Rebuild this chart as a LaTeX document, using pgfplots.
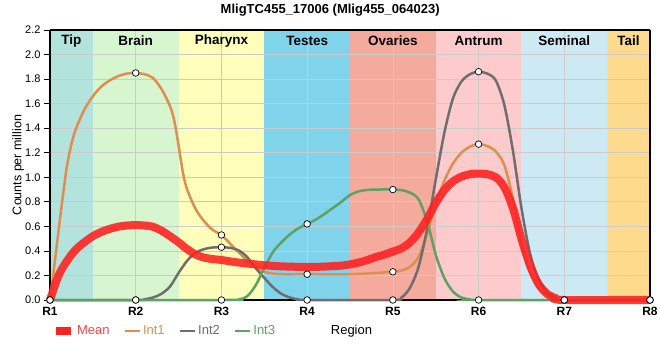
\documentclass[border=0pt]{standalone}
\usepackage{pgfplots}
\pgfplotsset{compat=1.18}
\usepackage{fontspec}
\setmainfont{Liberation Sans}
\definecolor{cTip}{HTML}{B3E3DD}
\definecolor{cBrain}{HTML}{D7F5CE}
\definecolor{cPharynx}{HTML}{FFFFBB}
\definecolor{cTestes}{HTML}{7FD3EA}
\definecolor{cOvaries}{HTML}{F4AB9D}
\definecolor{cAntrum}{HTML}{FDCBCC}
\definecolor{cSeminal}{HTML}{CDEAF4}
\definecolor{cTail}{HTML}{FDDA8C}
\definecolor{cMean}{HTML}{FF2020}
\definecolor{cInt1}{HTML}{DF8E4F}
\definecolor{cInt2}{HTML}{6E6E6E}
\definecolor{cInt3}{HTML}{5EA065}
\newcommand{\fs}[1]{\fontsize{#1}{#1}\selectfont}
\pgfplotsset{layers/mylayers/.define layer set={axis background,axis grid,main,axis ticks,axis lines,axis tick labels,axis descriptions,axis foreground}{}}
\begin{document}
\begin{tikzpicture}
\begin{axis}[
  set layers=mylayers,
  scale only axis, width=600pt, height=270pt,
  xmin=1, xmax=8, ymin=0, ymax=2.2,
  clip=false,
  xtick={1,...,8},
  xticklabels={R1,R2,R3,R4,R5,R6,R7,R8},
  ytick={0,0.2,...,2.21},
  /pgf/number format/fixed,
  /pgf/number format/fixed zerofill,
  /pgf/number format/precision=1,
  /pgf/number format/assume math mode=true,
  x tick label style={font=\bfseries\fs{12}, yshift=-1pt},
  y tick label style={font=\fs{11}},
  xtick align=center, xtick pos=bottom,
  ytick align=outside, ytick pos=left,
  major tick length=6pt,
  tick style={black, line width=0.8pt},
  grid=major,
  major grid style={color=black!20, line width=0.7pt},
  separate axis lines,
  x axis line style={black, line width=2.5pt},
  y axis line style={black, line width=1.8pt},
  xlabel={Region},
  xlabel style={font=\fs{13}, at={(axis description cs:0.5025,-0.115)}, anchor=center},
  ylabel={Counts per million},
  ylabel style={font=\fs{12.5}, at={(axis description cs:-0.053,0.5)}, anchor=center},
  title={\bfseries MligTC455\_17006 (Mlig455\_064023)},
  title style={font=\fs{13}, at={(axis description cs:0.467,1.05)}, anchor=center},
  legend columns=4,
  legend style={draw=none, fill=none, font=\fs{13},
    at={(axis description cs:0.003,-0.115)}, anchor=west,
    /tikz/every even column/.append style={column sep=12pt},
    inner sep=0pt},
  legend image code/.code={\draw[#1] (0pt,0pt) -- (15pt,0pt);},
]
\addlegendimage{cMean, line width=8pt}
\addlegendentry{\textcolor{cMean!85!white}{Mean}}
\addlegendimage{cInt1, line width=2.5pt}
\addlegendentry{\textcolor{cInt1}{Int1}}
\addlegendimage{cInt2, line width=2.5pt}
\addlegendentry{\textcolor{cInt2}{Int2}}
\addlegendimage{cInt3, line width=2.5pt}
\addlegendentry{\textcolor{cInt3}{Int3}}

% background bands
\addplot[on layer=axis background, fill=cTip, draw=none, forget plot] coordinates {(1,2.2) (1.5,2.2)} \closedcycle;
\addplot[on layer=axis background, fill=cBrain, draw=none, forget plot] coordinates {(1.5,2.2) (2.5,2.2)} \closedcycle;
\addplot[on layer=axis background, fill=cPharynx, draw=none, forget plot] coordinates {(2.5,2.2) (3.5,2.2)} \closedcycle;
\addplot[on layer=axis background, fill=cTestes, draw=none, forget plot] coordinates {(3.5,2.2) (4.5,2.2)} \closedcycle;
\addplot[on layer=axis background, fill=cOvaries, draw=none, forget plot] coordinates {(4.5,2.2) (5.5,2.2)} \closedcycle;
\addplot[on layer=axis background, fill=cAntrum, draw=none, forget plot] coordinates {(5.5,2.2) (6.5,2.2)} \closedcycle;
\addplot[on layer=axis background, fill=cSeminal, draw=none, forget plot] coordinates {(6.5,2.2) (7.5,2.2)} \closedcycle;
\addplot[on layer=axis background, fill=cTail, draw=none, forget plot] coordinates {(7.5,2.2) (8,2.2)} \closedcycle;

% Int1
\addplot[cInt1, line width=2.5pt, smooth, tension=0.5, no markers, forget plot] coordinates {
(1,0) (1.04,0.22) (1.08,0.45) (1.12,0.68) (1.16,0.9) (1.2,1.1) (1.25,1.27) (1.3,1.39) (1.4,1.55) (1.5,1.66) (1.6,1.74) (1.7,1.79) (1.8,1.825) (1.9,1.845) (2,1.85)
(2.1,1.84) (2.2,1.81) (2.3,1.72) (2.4,1.58) (2.45,1.46) (2.5,1.26) (2.55,1.04) (2.6,0.9) (2.7,0.74) (2.8,0.64) (2.9,0.57) (3,0.53)
(3.1,0.46) (3.2,0.39) (3.3,0.32) (3.4,0.265) (3.5,0.23) (3.6,0.215) (3.7,0.21) (4,0.21) (4.5,0.21) (4.8,0.22) (5,0.23)
(5.1,0.24) (5.2,0.27) (5.3,0.35) (5.4,0.54) (5.5,0.78) (5.6,0.97) (5.7,1.11) (5.8,1.2) (5.9,1.25) (6,1.27)
(6.1,1.255) (6.2,1.21) (6.3,1.1) (6.4,0.83) (6.5,0.46) (6.6,0.23) (6.7,0.1) (6.8,0.04) (6.9,0.01) (7,0) (8,0)};
% Int2
\addplot[cInt2, line width=2.5pt, smooth, tension=0.5, no markers, forget plot] coordinates {
(1,0) (2,0) (2.1,0.005) (2.2,0.02) (2.3,0.05) (2.4,0.11) (2.5,0.22) (2.6,0.32) (2.7,0.385) (2.8,0.415) (2.9,0.428) (3,0.43)
(3.1,0.425) (3.2,0.405) (3.3,0.35) (3.4,0.26) (3.5,0.18) (3.6,0.105) (3.7,0.05) (3.8,0.02) (3.9,0.005) (4,0) (5,0)
(5.1,0.02) (5.2,0.1) (5.3,0.27) (5.4,0.58) (5.5,0.98) (5.6,1.36) (5.7,1.64) (5.8,1.78) (5.9,1.84) (6,1.86)
(6.1,1.845) (6.2,1.79) (6.3,1.59) (6.4,1.22) (6.5,0.75) (6.6,0.38) (6.7,0.17) (6.8,0.065) (6.9,0.02) (7,0) (8,0)};
% Int3
\addplot[cInt3, line width=2.5pt, smooth, tension=0.5, no markers, forget plot] coordinates {
(1,0) (3,0) (3.2,0.005) (3.3,0.03) (3.4,0.12) (3.5,0.26) (3.6,0.39) (3.7,0.47) (3.8,0.535) (3.9,0.585) (4,0.62)
(4.1,0.655) (4.2,0.70) (4.3,0.75) (4.4,0.80) (4.5,0.855) (4.6,0.885) (4.7,0.897) (4.8,0.9) (5,0.9)
(5.1,0.895) (5.2,0.875) (5.3,0.82) (5.4,0.64) (5.5,0.37) (5.6,0.18) (5.7,0.07) (5.8,0.02) (5.9,0.005) (6,0) (8,0)};
% Mean
\addplot[cMean, draw opacity=0.88, line width=8pt, smooth, tension=0.5, no markers, forget plot] coordinates {
(1,0) (1.1,0.2) (1.2,0.32) (1.3,0.41) (1.4,0.47) (1.5,0.52) (1.6,0.555) (1.7,0.58) (1.8,0.598) (1.9,0.607) (2,0.61)
(2.1,0.607) (2.2,0.597) (2.3,0.565) (2.4,0.52) (2.5,0.47) (2.6,0.415) (2.7,0.37) (2.8,0.345) (2.9,0.333) (3,0.326)
(3.1,0.315) (3.2,0.305) (3.3,0.297) (3.4,0.29) (3.5,0.283) (3.6,0.278) (3.7,0.274) (3.8,0.272) (3.9,0.27) (4,0.27)
(4.1,0.27) (4.2,0.272) (4.3,0.276) (4.4,0.28) (4.5,0.29) (4.6,0.305) (4.7,0.325) (4.8,0.35) (4.9,0.37) (5,0.395)
(5.1,0.42) (5.2,0.47) (5.3,0.55) (5.4,0.66) (5.5,0.79) (5.6,0.895) (5.7,0.965) (5.8,1.005) (5.9,1.025) (6,1.03)
(6.1,1.025) (6.2,1.0) (6.3,0.92) (6.4,0.75) (6.5,0.5) (6.6,0.28) (6.7,0.13) (6.8,0.05) (6.9,0.015) (7,0) (8,0)};

% markers at regions
\pgfplotsset{mk/.style={only marks, mark=*, mark size=3.3pt, mark options={fill=white, draw=black, line width=0.7pt}, forget plot}}
\addplot[mk] coordinates {(1,0) (2,1.85) (3,0.53) (4,0.21) (5,0.23) (6,1.27) (7,0) (8,0)};
\addplot[mk] coordinates {(1,0) (2,0) (3,0.43) (4,0) (5,0) (6,1.86) (7,0) (8,0)};
\addplot[mk] coordinates {(1,0) (2,0) (3,0) (4,0.62) (5,0.9) (6,0) (7,0) (8,0)};

% band labels
\begin{scope}[font=\bfseries\fs{13.5}]
\node at (axis cs:1.25,2.11) {Tip};
\node at (axis cs:2,2.11) {Brain};
\node at (axis cs:3,2.11) {Pharynx};
\node at (axis cs:4,2.11) {Testes};
\node at (axis cs:5,2.11) {Ovaries};
\node at (axis cs:6,2.11) {Antrum};
\node at (axis cs:7,2.11) {Seminal};
\node at (axis cs:7.75,2.11) {Tail};
\end{scope}
\coordinate (BL) at (rel axis cs:0,0);
\coordinate (TR) at (rel axis cs:1,1);
\end{axis}
\pgfresetboundingbox
\path ([xshift=-50pt,yshift=-60pt]BL) rectangle ([xshift=10pt,yshift=30pt]TR);
\end{tikzpicture}
\end{document}
